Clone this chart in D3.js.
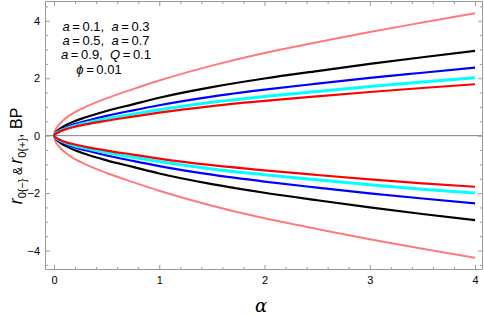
<!DOCTYPE html>
<html>
<head>
<meta charset="utf-8">
<script src="https://cdn.jsdelivr.net/npm/d3@7"></script>
<style>
  html, body { margin: 0; padding: 0; background: #fff; }
  svg { display: block; font-family: "Liberation Sans", Arial, sans-serif; }
</style>
</head>
<body>
<svg id="chart" width="484" height="316"></svg>
<script>
// ---- data ----
const alpha = [0, 0.01, 0.03, 0.06, 0.1, 0.2, 0.3, 0.5, 0.75, 1, 1.5, 2, 2.5, 3, 3.5, 4];

const pinkUpper  = [0, 0.17, 0.30, 0.43, 0.57, 0.82, 1.00, 1.30, 1.62, 1.92, 2.44, 2.88, 3.25, 3.61, 3.94, 4.26];
const blackUpper = [0, 0.08, 0.16, 0.25, 0.34, 0.51, 0.64, 0.86, 1.09, 1.32, 1.69, 1.99, 2.25, 2.50, 2.73, 2.95];
const blueUpper  = [0, 0.064, 0.128, 0.20, 0.27, 0.41, 0.51, 0.69, 0.88, 1.06, 1.36, 1.60, 1.81, 2.01, 2.19, 2.37];
const cyanUpper  = [0, 0.055, 0.11, 0.17, 0.23, 0.35, 0.44, 0.59, 0.75, 0.90, 1.16, 1.36, 1.54, 1.71, 1.87, 2.02];
const redUpper   = [0, 0.048, 0.097, 0.15, 0.21, 0.31, 0.39, 0.52, 0.66, 0.80, 1.03, 1.21, 1.37, 1.52, 1.66, 1.79];

const pinkLower  = [0, -0.17, -0.30, -0.43, -0.57, -0.82, -1.00, -1.30, -1.62, -1.92, -2.44, -2.88, -3.25, -3.61, -3.94, -4.25];
const blackLower = [0, -0.08, -0.16, -0.25, -0.34, -0.51, -0.64, -0.86, -1.09, -1.32, -1.69, -1.99, -2.25, -2.50, -2.73, -2.94];
const blueLower  = [0, -0.064, -0.128, -0.20, -0.27, -0.41, -0.51, -0.69, -0.88, -1.06, -1.36, -1.60, -1.81, -2.01, -2.19, -2.36];
const cyanLower  = [0, -0.055, -0.11, -0.17, -0.23, -0.35, -0.44, -0.59, -0.75, -0.90, -1.16, -1.36, -1.54, -1.71, -1.87, -2.00];
const redLower   = [0, -0.048, -0.097, -0.15, -0.21, -0.31, -0.39, -0.52, -0.66, -0.80, -1.03, -1.21, -1.37, -1.52, -1.66, -1.78];

const xTicks = [0, 1, 2, 3, 4];
const yTicks = [-4, -2, 0, 2, 4];
const legendLines = [
  [["a", true], ["\u2009=\u20090.1,  ", false], ["a", true], ["\u2009=\u20090.3", false]],
  [["a", true], ["\u2009=\u20090.5,  ", false], ["a", true], ["\u2009=\u20090.7", false]],
  [["a", true], ["\u2009=\u20090.9,  ", false], ["Q", true], ["\u2009=\u20090.1", false]],
  [["\u03d5", true], ["\u2009=\u20090.01", false]]
];

const series = [
  { up: pinkUpper,  lo: pinkLower,  color: "#ff7b7b", w: 2.0 },
  { up: blackUpper, lo: blackLower, color: "#000000", w: 2.2 },
  { up: blueUpper,  lo: blueLower,  color: "#0000ff", w: 2.2 },
  { up: cyanUpper,  lo: cyanLower,  color: "#00ffff", w: 3.0 },
  { up: redUpper,   lo: redLower,   color: "#ff0000", w: 2.2 }
];

// ---- layout ----
const svg = d3.select("#chart");
const L = 45, R = 483, T = 1, B = 270;
const x = d3.scaleLinear().domain([-0.0855, 4.076]).range([L, R]);
const y = d3.scaleLinear().domain([-4.68, 4.69]).range([B, T]);

const frameColor = "#9a9a9a";

// zero line
svg.append("line")
  .attr("x1", L).attr("x2", R)
  .attr("y1", y(0)).attr("y2", y(0))
  .attr("stroke", "#808080").attr("stroke-width", 1);

// curves
const line = d3.line()
  .x((d, i) => x(alpha[i]))
  .y(d => y(d))
  .curve(d3.curveMonotoneX);

const g = svg.append("g");
series.forEach(s => {
  [s.up, s.lo].forEach(arr => {
    g.append("path")
      .attr("d", line(arr))
      .attr("fill", "none")
      .attr("stroke", s.color)
      .attr("stroke-width", s.w)
      .attr("stroke-linejoin", "round");
  });
});

// frame
svg.append("rect")
  .attr("x", L + 0.5).attr("y", T + 0.5)
  .attr("width", R - L - 1).attr("height", B - T - 1)
  .attr("fill", "none").attr("stroke", frameColor).attr("stroke-width", 1);

const xMinor = d3.range(0, 4.01, 0.2).map(v => +v.toFixed(2)).filter(v => !xTicks.includes(v));
const yMinor = d3.range(-4.5, 4.51, 0.5).map(v => +v.toFixed(2)).filter(v => !yTicks.includes(v));

function tickAxis(axisGen, transform, size, vals, labels) {
  const a = svg.append("g").attr("transform", transform)
    .call(axisGen.tickValues(vals).tickSize(size).tickSizeOuter(0)
      .tickFormat(labels ? (d => d < 0 ? "\u2212" + Math.abs(d) : d) : ""));
  a.select(".domain").remove();
  a.selectAll(".tick line").attr("stroke", frameColor);
  a.selectAll("text").attr("fill", "#000").attr("font-size", 11)
    .attr("font-family", "'Liberation Sans', Arial, sans-serif");
  return a;
}

const bx = tickAxis(d3.axisBottom(x), `translate(0,${B})`, -5, xTicks, true);
bx.selectAll("text").attr("y", 6).attr("dy", "0.71em");
tickAxis(d3.axisBottom(x), `translate(0,${B})`, -3, xMinor, false);
tickAxis(d3.axisTop(x), `translate(0,${T})`, -5, xTicks, false);
tickAxis(d3.axisTop(x), `translate(0,${T})`, -3, xMinor, false);
const ly = tickAxis(d3.axisLeft(y), `translate(${L},0)`, -5, yTicks, true);
ly.selectAll("text").attr("x", -5);
tickAxis(d3.axisLeft(y), `translate(${L},0)`, -3, yMinor, false);
tickAxis(d3.axisRight(y), `translate(${R},0)`, -5, yTicks, false);
tickAxis(d3.axisRight(y), `translate(${R},0)`, -3, yMinor, false);

// legend text
const legendPos = [[106, 31], [106, 45], [106, 59], [99, 74]];
legendLines.forEach((parts, i) => {
  const t = svg.append("text")
    .attr("x", legendPos[i][0]).attr("y", legendPos[i][1])
    .attr("text-anchor", "middle").attr("font-size", 13).attr("fill", "#000")
    .attr("xml:space", "preserve").style("white-space", "pre");
  parts.forEach(([s, it]) => {
    t.append("tspan").text(s).attr("font-style", it ? "italic" : "normal");
  });
});

// x label
svg.append("text")
  .attr("x", 261).attr("y", 312)
  .attr("text-anchor", "middle")
  .attr("font-size", 18).attr("font-style", "italic")
  .attr("font-family", "'DejaVu Serif', 'Liberation Serif', serif")
  .text("\u03b1");

// y label
const yl = svg.append("text")
  .attr("transform", "translate(22,156) rotate(-90)")
  .attr("text-anchor", "middle").attr("fill", "#000")
  .attr("font-size", 16);
yl.append("tspan").text("r").attr("font-style", "italic").attr("font-size", 18);
yl.append("tspan").text("0{\u2212}").attr("font-size", 11).attr("dy", 4);
yl.append("tspan").text(" & ").attr("font-size", 12).attr("dy", -4);
yl.append("tspan").text("r").attr("font-style", "italic").attr("font-size", 18);
yl.append("tspan").text("0{+}").attr("font-size", 11).attr("dy", 4);
yl.append("tspan").text(", BP").attr("font-size", 16).attr("dy", -4);
</script>
</body>
</html>
